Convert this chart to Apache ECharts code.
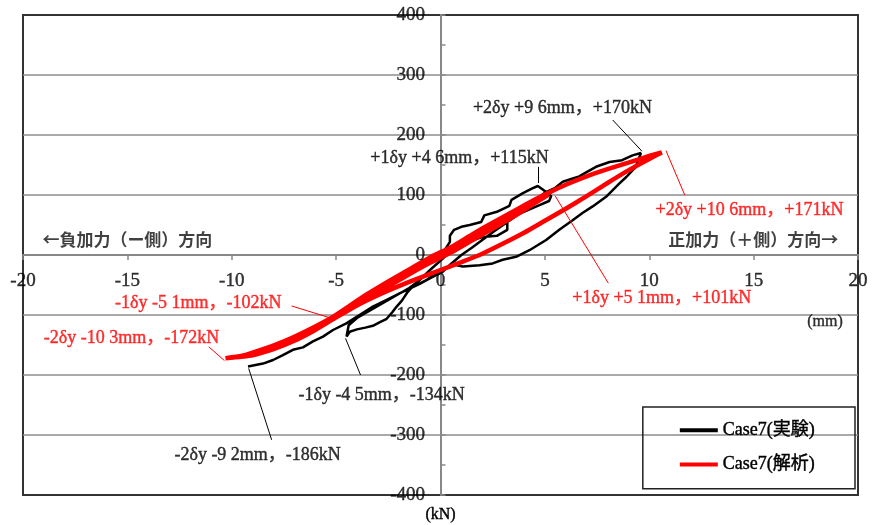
<!DOCTYPE html>
<html>
<head>
<meta charset="utf-8">
<script src="https://cdn.jsdelivr.net/npm/echarts@6/dist/echarts.min.js"></script>
<style>
  html, body { margin: 0; padding: 0; background: #fff; }
  #main { width: 875px; height: 525px; }
</style>
</head>
<body>
<div id="main"></div>
<script>
// 実験 (black) : 変位 mm, 荷重 kN
const expCurve = [
  [0, 0], [0.2, 8], [0.45, 22], [0.45, 32], [0.65, 42], [1.0, 47], [1.4, 50], [1.95, 55],
  [2.1, 66], [2.7, 72], [3.3, 82], [3.4, 92], [3.95, 103], [4.4, 111], [4.66, 115],
  [4.9, 109], [5.3, 98], [5.2, 90], [4.6, 81], [3.8, 69], [3.2, 58], [3.2, 42], [2.7, 32],
  [2.0, 30], [1.3, 22], [0.7, 10], [0.2, -3],
  [-0.5, -25], [-1.0, -42], [-1.5, -55], [-2.0, -65], [-2.5, -75], [-3.0, -85], [-3.5, -95],
  [-4.0, -105], [-4.4, -117], [-4.5, -136],
  [-4.35, -128], [-4.0, -124], [-3.6, -121], [-3.24, -118], [-2.9, -112], [-2.6, -107],
  [-2.3, -95], [-2.1, -86], [-1.85, -76], [-1.6, -63], [-1.4, -55], [-1.0, -48], [-0.4, -37],
  [0.1, -28], [0.5, -15],
  [1, 0], [1.5, 12], [2, 25], [2.5, 38], [3, 50], [3.5, 62], [4, 76], [4.5, 90], [5.0, 104],
  [5.5, 112], [5.86, 122], [6.3, 127], [6.65, 131], [7.0, 138], [7.45, 147], [8.1, 155],
  [8.7, 158], [9.2, 166], [9.6, 170],
  [9.36, 147], [8.9, 130], [8.56, 119], [7.93, 97], [7.29, 81], [6.8, 70], [6.33, 58],
  [5.69, 42], [5.06, 25], [4.26, 8], [3.62, -3], [2.98, -8], [2.5, -14], [1.87, -17],
  [1.07, -19], [0.6, -16], [0.2, -22], [-0.3, -32], [-0.68, -42], [-1.32, -53], [-1.96, -64],
  [-2.6, -75], [-3.24, -86], [-3.88, -100], [-4.51, -114], [-5.15, -125], [-5.63, -136],
  [-6.11, -144], [-6.59, -154], [-7.07, -158], [-7.55, -167], [-8.02, -175], [-8.5, -181],
  [-9.22, -186]
];

// 解析 (red)
const anaCurve = [
  [0, 0], [1, 21], [2, 42], [3, 61], [4, 80], [5.2, 101],
  [4.5, 86], [3.5, 64], [2.5, 44], [1.5, 24], [0.5, 4], [-0.5, -13], [-1.5, -32],
  [-2.5, -52], [-3.5, -71], [-4.3, -86], [-5.1, -102],
  [-4.5, -88], [-3.5, -65], [-2.5, -44], [-1.5, -24], [-0.5, -4], [0.5, 13],
  [1.5, 34], [2.5, 54], [3.5, 73], [4.5, 92], [5.2, 104], [6, 117], [7, 131], [8, 143],
  [9, 154], [10, 165], [10.6, 171],
  [10, 160], [9, 141], [8, 120], [7, 98], [6, 77], [5, 57], [4, 37], [3, 19], [2, 2],
  [1, -12], [0, -25], [-1, -38], [-2, -52], [-3, -67], [-4, -84], [-5, -104], [-6, -125],
  [-7, -143], [-8, -157], [-9, -167], [-10.3, -172],
  [-9.5, -168], [-8.5, -157], [-7.5, -144], [-6.5, -128], [-5.5, -110], [-4.5, -90],
  [-3.5, -68], [-2.5, -47], [-1.5, -27], [-0.5, -7], [0, 3]
];

// 目盛ラベル
const xTicks = [-20, -15, -10, -5, 0, 5, 10, 15, 20];
const yTicks = [-400, -300, -200, -100, 0, 100, 200, 300, 400];

// 注記 (テキスト位置と矢印 : データ座標)
const expNotes = [
  { text: '+2δy +9 6mm，+170kN', at: [5.84, 245], from: [8.25, 225], to: [9.65, 173] },
  { text: '+1δy +4 6mm，+115kN', at: [0.91, 162], from: [4.66, 147], to: [4.66, 120] },
  { text: '-1δy -4 5mm，-134kN', at: [-2.82, -233], from: [-3.83, -200], to: [-4.55, -139] },
  { text: '-2δy -9 2mm，-186kN', at: [-8.76, -333], from: [-8.09, -308], to: [-9.19, -189] }
];
const anaNotes = [
  { text: '+2δy +10 6mm，+171kN', at: [14.8, 75], from: [11.7, 100], to: [10.8, 174] },
  { text: '+1δy +5 1mm，+101kN', at: [10.6, -72], from: [8.04, -47], to: [5.5, 98] },
  { text: '-1δy -5 1mm，-102kN', at: [-11.6, -80], from: [-7.13, -85], to: [-5.17, -106] },
  { text: '-2δy -10 3mm，-172kN', at: [-14.8, -138], from: [-11.1, -153], to: [-10.35, -176] }
];
const dirNotes = [
  { text: '←負加力（ー側）方向', at: [-15.0, 25] },
  { text: '正加力（＋側）方向→', at: [14.98, 25] }
];
const unitNote = { text: '(mm)', at: [18.42, -112] };

const serif = "'Liberation Serif', 'Noto Sans CJK JP', serif";

const serifLabel = (color, size) => ({
  color: color, fontSize: size, fontFamily: serif,
  textBorderColor: color, textBorderWidth: 0.4
});

const textSeries = (items, label) => ({
  type: 'scatter',
  silent: true,
  clip: false,
  symbolSize: 1,
  itemStyle: { color: 'transparent' },
  label: Object.assign({ show: true, formatter: '{b}' }, label),
  data: items,
  z: 5
});

const noteSeries = (notes, color) => Object.assign(
  textSeries(notes.map(n => ({ name: n.text, value: n.at })),
    Object.assign({ position: 'inside' }, serifLabel(color, 18))),
  {
    markLine: {
      silent: true,
      symbol: ['none', 'arrow'],
      symbolSize: [0, 9],
      label: { show: false },
      lineStyle: { color: color, width: 1, type: 'solid' },
      data: notes.map(n => [{ coord: n.from }, { coord: n.to }])
    }
  }
);

let myChart = echarts.init(document.getElementById('main'));
myChart.setOption({
  animation: false,
  backgroundColor: '#fff',
  grid: {
    left: 23, right: 17, top: 15, bottom: 30,
    containLabel: false, outerBoundsMode: 'none',
    show: true, borderColor: '#333', borderWidth: 2, backgroundColor: 'transparent'
  },
  legend: {
    data: ['Case7(実験)', 'Case7(解析)'],
    orient: 'vertical',
    right: 20, top: 407,
    padding: [14, 40, 15, 37],
    itemGap: 16, itemWidth: 38, itemHeight: 4,
    icon: 'rect',
    borderColor: '#222', borderWidth: 1.5,
    textStyle: serifLabel('#000', 18)
  },
  xAxis: {
    type: 'value', min: -20, max: 20, interval: 5,
    axisLine: { onZero: true, lineStyle: { color: '#888', width: 2 } },
    axisTick: { show: true, length: 5, lineStyle: { color: '#888', width: 1.5 } },
    axisLabel: { show: false },
    splitLine: { show: false }
  },
  yAxis: {
    type: 'value', min: -400, max: 400, interval: 100,
    name: '(kN)', nameLocation: 'start', nameGap: 12,
    nameTextStyle: serifLabel('#000', 16),
    axisLine: { onZero: true, lineStyle: { color: '#888', width: 2 } },
    axisTick: { show: true, inside: true, length: 5, lineStyle: { color: '#888', width: 1.5 } },
    minorTick: { show: true, splitNumber: 2, length: 5, lineStyle: { color: '#888', width: 1.5 } },
    axisLabel: { show: false },
    splitLine: { show: true, showMinLine: false, showMaxLine: false, lineStyle: { color: '#8c8c8c', width: 1.5 } }
  },
  series: [
    {
      name: 'Case7(実験)', type: 'line', data: expCurve,
      showSymbol: false, smooth: false,
      lineStyle: { color: '#000', width: 2.5 }, itemStyle: { color: '#000' }, z: 3
    },
    {
      name: 'Case7(解析)', type: 'line', data: anaCurve,
      showSymbol: false, smooth: 0.2,
      lineStyle: { color: '#ff0000', width: 4.5 }, itemStyle: { color: '#ff0000' }, z: 4
    },
    // 目盛ラベル (軸の 0 位置に沿って配置)
    textSeries(xTicks.map(v => ({ name: String(v), value: [v, 0] })),
      Object.assign({ position: 'bottom', distance: 16 }, serifLabel('#000', 19))),
    textSeries(yTicks.map(v => ({ name: String(v), value: [0, v] })),
      Object.assign({ position: 'left', distance: 15 }, serifLabel('#000', 19))),
    noteSeries(expNotes, '#000'),
    noteSeries(anaNotes, '#ff0000'),
    textSeries(dirNotes.map(n => ({ name: n.text, value: n.at })), {
      position: 'inside', color: '#111', fontSize: 17, fontWeight: 'bold',
      fontFamily: "'Noto Sans CJK JP', sans-serif"
    }),
    textSeries([{ name: unitNote.text, value: unitNote.at }],
      Object.assign({ position: 'inside' }, serifLabel('#000', 16)))
  ]
});
window.addEventListener('resize', () => {
  myChart.resize();
});
</script>
</body>
</html>
